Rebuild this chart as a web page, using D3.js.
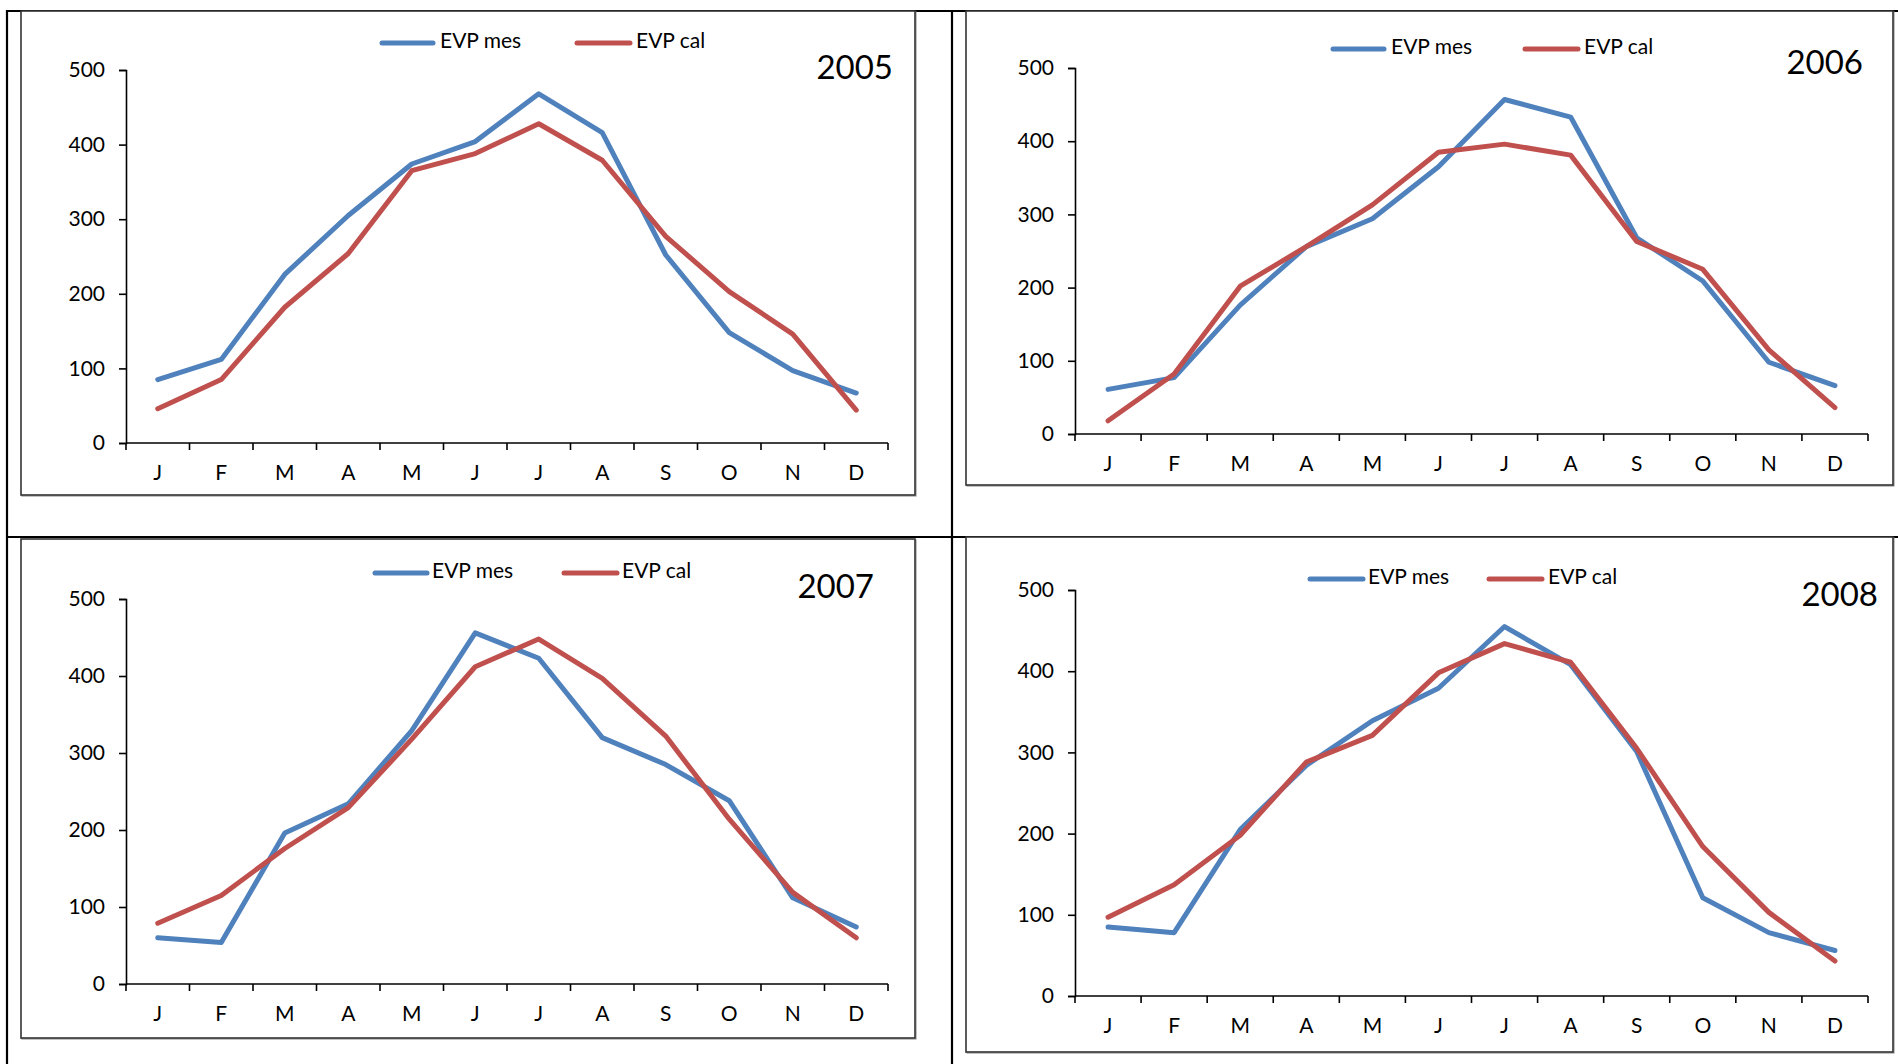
<!DOCTYPE html>
<html>
<head>
<meta charset="utf-8">
<script src="https://cdn.jsdelivr.net/npm/d3@7"></script>
<style>
  html, body { margin: 0; padding: 0; background: #fff; }
  svg { display: block; }
  text { font-family: Lato, "Open Sans", sans-serif; fill: #000; }
</style>
</head>
<body>
<svg id="chart" width="1898" height="1064"></svg>
<script>
// ---------------- DATA ----------------
const months = ["J","F","M","A","M","J","J","A","S","O","N","D"];
const yTicks = [0, 100, 200, 300, 400, 500];
const seriesNames = ["EVP mes", "EVP cal"];
const years = ["2005", "2006", "2007", "2008"];

const evpMes2005 = [85, 112, 226, 305, 374, 404, 468, 416, 252, 148, 97, 67];
const evpCal2005 = [46, 85, 182, 254, 365, 388, 428, 379, 277, 203, 146, 44];

const evpMes2006 = [61, 77, 176, 256, 294, 365, 457, 433, 268, 209, 98, 66];
const evpCal2006 = [18, 82, 202, 256, 313, 385, 396, 381, 263, 225, 115, 36];

const evpMes2007 = [60, 54, 196, 234, 329, 456, 423, 320, 285, 238, 112, 74];
const evpCal2007 = [79, 115, 176, 229, 318, 412, 448, 397, 322, 214, 119, 60];

const evpMes2008 = [85, 78, 205, 284, 339, 379, 455, 408, 301, 121, 78, 56];
const evpCal2008 = [97, 137, 198, 288, 321, 398, 434, 411, 305, 184, 103, 43];

const seriesColors = ["#4F81BD", "#C0504D"];

// ---------------- LAYOUT ----------------
const panels = [
  { year: years[0], mes: evpMes2005, cal: evpCal2005,
    frame: [21, 11, 894, 484], plot: [126, 888, 70, 443],
    legY: 43, leg: [[382, 433, 440], [577, 630, 636]], title: [893, 79] },
  { year: years[1], mes: evpMes2006, cal: evpCal2006,
    frame: [966, 11, 927, 474], plot: [1075, 1868, 68, 434],
    legY: 49, leg: [[1333, 1384, 1391], [1525, 1578, 1584]], title: [1863, 74] },
  { year: years[2], mes: evpMes2007, cal: evpCal2007,
    frame: [21, 539, 894, 499], plot: [126, 888, 599, 984],
    legY: 573, leg: [[375, 427, 432], [564, 617, 622]], title: [874, 598] },
  { year: years[3], mes: evpMes2008, cal: evpCal2008,
    frame: [966, 537, 927, 515], plot: [1075, 1868, 590, 996],
    legY: 579, leg: [[1310, 1363, 1368], [1489, 1542, 1548]], title: [1878, 606] }
];

const svg = d3.select("#chart");

// table grid lines
const grid = svg.append("g").attr("stroke", "#000").attr("stroke-width", 2.2);
grid.append("line").attr("x1", 6).attr("x2", 1898).attr("y1", 11).attr("y2", 11);
grid.append("line").attr("x1", 7).attr("x2", 7).attr("y1", 10).attr("y2", 1064);
grid.append("line").attr("x1", 952).attr("x2", 952).attr("y1", 10).attr("y2", 1064);
grid.append("line").attr("x1", 6).attr("x2", 1898).attr("y1", 537).attr("y2", 537);

panels.forEach(p => {
  const g = svg.append("g");
  const [fx, fy, fw, fh] = p.frame;
  // frame with slight shadow
  g.append("rect").attr("x", fx + 1).attr("y", fy + 1).attr("width", fw).attr("height", fh)
    .attr("fill", "none").attr("stroke", "#9a9a9a").attr("stroke-width", 1.2);
  g.append("rect").attr("x", fx).attr("y", fy).attr("width", fw).attr("height", fh)
    .attr("fill", "#fff").attr("stroke", "#333").attr("stroke-width", 1.6);

  const [x0, x1, yTop, yBot] = p.plot;
  const x = d3.scaleBand().domain(d3.range(months.length)).range([x0, x1]);
  const y = d3.scaleLinear().domain([0, 500]).range([yBot, yTop]);

  // Y axis
  const yAxis = d3.axisLeft(y).tickValues(yTicks).tickSize(7).tickPadding(14);
  const ya = g.append("g").attr("transform", `translate(${x0},0)`).call(yAxis);
  ya.select(".domain").attr("stroke", "#000").attr("stroke-width", 1.6);
  ya.selectAll(".tick line").attr("stroke", "#000").attr("stroke-width", 1.6);
  ya.selectAll(".tick text").attr("font-size", 21).attr("font-family", "Lato, sans-serif").attr("fill", "#000");

  // X axis: ticks between categories
  const xa = g.append("g").attr("transform", `translate(0,${yBot})`);
  xa.append("line").attr("x1", x0).attr("x2", x1).attr("y1", 0).attr("y2", 0)
    .attr("stroke", "#000").attr("stroke-width", 1.6);
  const bounds = d3.range(months.length + 1).map(i => i < months.length ? x(i) : x1);
  xa.selectAll("line.tk").data(bounds).join("line").attr("class", "tk")
    .attr("x1", d => d).attr("x2", d => d).attr("y1", 0).attr("y2", 7)
    .attr("stroke", "#000").attr("stroke-width", 1.6);
  xa.selectAll("text").data(months).join("text")
    .attr("x", (d, i) => x(i) + x.bandwidth() / 2).attr("y", 32)
    .attr("text-anchor", "middle").attr("dominant-baseline", "middle")
    .attr("font-size", 21).text(d => d);

  // lines
  const line = d3.line().x((d, i) => x(i) + x.bandwidth() / 2).y(d => y(d));
  [p.mes, p.cal].forEach((vals, k) => {
    g.append("path").datum(vals).attr("d", line)
      .attr("fill", "none").attr("stroke", seriesColors[k]).attr("stroke-width", 5)
      .attr("stroke-linejoin", "round").attr("stroke-linecap", "round");
  });

  // legend
  p.leg.forEach(([lx1, lx2, tx], k) => {
    g.append("line").attr("x1", lx1).attr("x2", lx2).attr("y1", p.legY).attr("y2", p.legY)
      .attr("stroke", seriesColors[k]).attr("stroke-width", 5).attr("stroke-linecap", "round");
    g.append("text").attr("x", tx).attr("y", p.legY).attr("dominant-baseline", "middle")
      .attr("font-size", 21).text(seriesNames[k]);
  });

  // year title
  g.append("text").attr("x", p.title[0]).attr("y", p.title[1])
    .attr("text-anchor", "end").attr("font-size", 33).text(p.year);
});
</script>
</body>
</html>
